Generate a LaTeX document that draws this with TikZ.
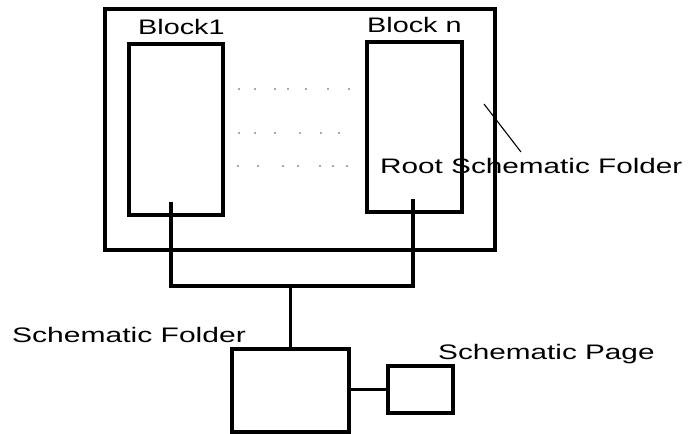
\documentclass[tikz,border=0pt]{standalone}
\usepackage{fontspec}
\setmainfont{Liberation Sans}
\begin{document}
\begin{tikzpicture}[x=1pt,y=-1pt,
  box/.style={draw,line width=3.4pt,inner sep=0pt,outer sep=0pt,rectangle},
  wire/.style={line width=3.2pt},
  lbl/.style={inner sep=0pt,anchor=base west,font=\fontsize{21}{25}\selectfont},
  dotc/.style={fill=black!45}]
\useasboundingbox (0,0) rectangle (689,434);
% boxes
\node[box,minimum width=390pt,minimum height=241pt] (outer) at (300,129.5) {};
\node[box,minimum width=94pt,minimum height=171pt] (b1) at (176,129.5) {};
\node[box,minimum width=95pt,minimum height=170pt] (bn) at (414.5,127) {};
\node[box,minimum width=117pt,minimum height=83pt] (folder) at (290.5,390.5) {};
\node[box,minimum width=65pt,minimum height=47pt] (page) at (420.5,389.5) {};
% labels
\node[lbl] (l1) at (138,34) {\scalebox{1.37}[1]{Block1}};
\node[lbl] (ln) at (367,32) {\scalebox{1.37}[1]{Block n}};
\node[lbl] (lroot) at (380,173) {\scalebox{1.415}[1]{Root Schematic Folder}};
\node[lbl] (lfold) at (12,342) {\scalebox{1.43}[1]{Schematic Folder}};
\node[lbl] (lpage) at (438,359) {\scalebox{1.415}[1]{Schematic Page}};
% connectors
\coordinate (s1) at (171,202);
\coordinate (sn) at (413,199);
\coordinate (bus) at (folder.north |- 0,286);
\draw[wire] (s1) -- (s1 |- bus) -- (sn |- bus) -- (sn);
\draw[wire] (bus) -- (folder.north);
\draw[wire] (folder.east |- page.west) -- (page.west);
% pointer line
\coordinate (p1) at (484,104);
\coordinate (p2) at (521,152);
\draw[line width=1.1pt] (p1) -- (p2);
% dots
\foreach \x in {239,255,275,288,306,328,349} \fill[dotc] (\x,89) circle (1.1pt);
\foreach \x in {239,255,275,300,321,339} \fill[dotc] (\x,133) circle (1.1pt);
\foreach \x in {238,258,283,298,320,333,347} \fill[dotc] (\x,166) circle (1.1pt);
\end{tikzpicture}
\end{document}
